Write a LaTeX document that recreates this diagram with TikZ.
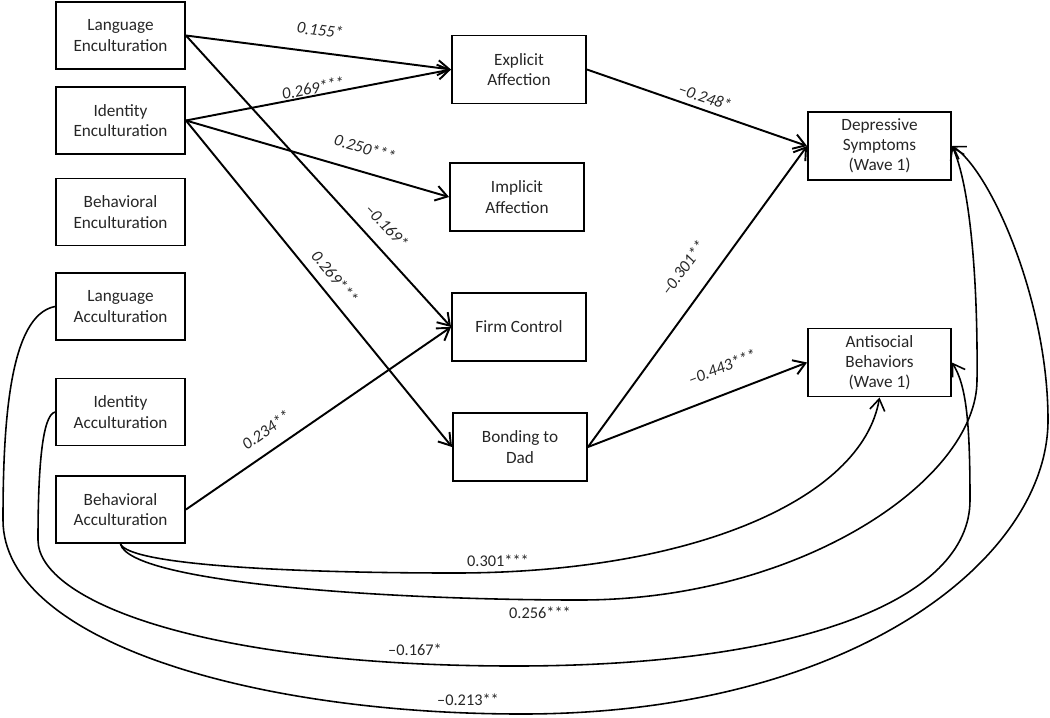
\documentclass[tikz,border=0pt]{standalone}
\usepackage{fontspec}
\setmainfont{Carlito}
\usetikzlibrary{arrows.meta}
\begin{document}
\begin{tikzpicture}[x=0.02cm,y=-0.02cm,
  bx/.style={draw, line width=1.1pt, inner sep=0pt, align=center, text=black!85,
    font=\fontsize{9.8}{11.5}\selectfont},
  lbox/.style={bx, minimum width=2.58cm, minimum height=1.34cm},
  mbox/.style={bx, minimum width=2.68cm, minimum height=1.36cm},
  rbox/.style={bx, minimum width=2.86cm, minimum height=1.36cm},
  tip/.style={-{Straight Barb[length=2.3mm,width=3mm]}},
  arr/.style={line width=1.1pt, tip},
  cur/.style={line width=0.9pt},
  elab/.style={font=\fontsize{9.5}{11}\selectfont\itshape, inner sep=1pt, text=black!85},
  blab/.style={font=\fontsize{9.3}{11}\selectfont, inner sep=1pt, text=black!85}]
\useasboundingbox (0,0) rectangle (1050,717);
% left column
\node[lbox] (LE) at (120.5,35.5) {Language\\Enculturation};
\node[lbox] (IE) at (120.5,120.5) {Identity\\Enculturation};
\node[lbox] (BE) at (120.5,212) {Behavioral\\Enculturation};
\node[lbox] (LA) at (120.5,306.5) {Language\\Acculturation};
\node[lbox] (IA) at (120.5,412) {Identity\\Acculturation};
\node[lbox] (BA) at (120.5,509.5) {Behavioral\\Acculturation};
% middle column
\node[mbox] (EA) at (519,69.5) {Explicit\\Affection};
\node[mbox] (IMA) at (517,197) {Implicit\\Affection};
\node[mbox] (FC) at (519,327) {Firm Control};
\node[mbox] (BD) at (520,447) {Bonding to\\Dad};
% right column
\node[rbox] (DS) at (879.5,146) {Depressive\\Symptoms\\(Wave 1)};
\node[rbox] (AB) at (879.5,362.5) {Antisocial\\Behaviors\\(Wave 1)};
% straight paths
\draw[arr] (LE.east) -- (EA.west);
\draw[arr] (IE.east) -- (EA.west);
\draw[arr] (IE.east) -- (IMA.west);
\draw[arr] (LE.east) -- (FC.west);
\draw[arr] (IE.east) -- (BD.west);
\draw[arr] (BA.east) -- (FC.west);
\draw[arr] (EA.east) -- (DS.west);
\draw[arr] (BD.east) -- (DS.west);
\draw[arr] (BD.east) -- (AB.west);
% path labels
\node[elab, rotate=-7] (l1) at (320,30) {0.155*};
\node[elab, rotate=11] (l2) at (313,88) {0.269***};
\node[elab, rotate=-16] (l3) at (365,148) {0.250***};
\node[elab, rotate=-47] (l4) at (387,226) {–0.169*};
\node[elab, rotate=-50.5] (l5) at (335,277) {0.269***};
\node[elab, rotate=35] (l6) at (266,430) {0.234**};
\node[elab, rotate=-19] (l7) at (705,97) {–0.248*};
\node[elab, rotate=53.6] (l8) at (683,268) {–0.301**};
\node[elab, rotate=21] (l9) at (722,367) {–0.443***};
% correlations
\draw[cur, tip] (BA.south) .. controls (130,565) and (290,573) .. (455,573)
  .. controls (690,573) and (862,500) .. (AB.south);
\draw[cur, tip] (BA.south) .. controls (130,582) and (380,600) .. (580,600)
  .. controls (800,600) and (977,480) .. (977,380)
  .. controls (978,280) and (970,185) .. (DS.east);
\draw[cur, tip] (IA.west) .. controls (42,415) and (38,470) .. (38,540)
  .. controls (38,600) and (200,666) .. (515,666)
  .. controls (800,666) and (970,600) .. (970,500)
  .. controls (970,420) and (966,385) .. (AB.east);
\draw[cur, tip] (LA.west) .. controls (10,315) and (3,420) .. (3,520)
  .. controls (3,640) and (250,714) .. (522,714)
  .. controls (850,714) and (1048,560) .. (1048,420)
  .. controls (1048,300) and (990,170) .. (DS.east);
\node[blab] (c1) at (498,561) {0.301***};
\node[blab] (c2) at (540,613) {0.256***};
\node[blab] (c3) at (415,650) {–0.167*};
\node[blab] (c4) at (468,700) {–0.213**};
\end{tikzpicture}
\end{document}
